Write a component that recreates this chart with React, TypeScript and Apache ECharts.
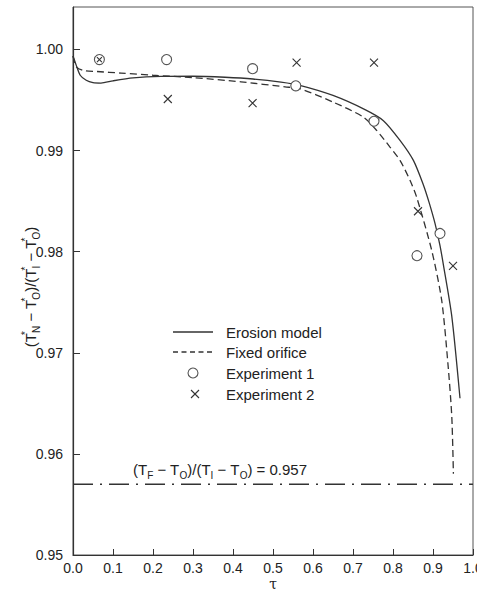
import React, { useEffect, useRef } from 'react';
import * as echarts from 'echarts';

// ---- data ----
const erosionTau = [0, 0.008, 0.018, 0.033, 0.05, 0.07, 0.1, 0.15, 0.22, 0.3, 0.38, 0.45, 0.52, 0.567, 0.65, 0.73, 0.776, 0.8175, 0.851, 0.876, 0.89, 0.905, 0.9175, 0.926, 0.947, 0.9675];
const erosionVal = [0.99935, 0.99845, 0.99745, 0.99695, 0.99672, 0.99668, 0.9969, 0.99718, 0.99733, 0.99735, 0.99725, 0.99708, 0.99677, 0.99645, 0.99545, 0.99405, 0.99296, 0.99101, 0.98903, 0.9866, 0.9849, 0.9828, 0.9806, 0.9787, 0.9736, 0.9655];

const orificeTau = [0, 0.009, 0.026, 0.06, 0.12, 0.2, 0.3, 0.42, 0.53, 0.5675, 0.65, 0.726, 0.759, 0.7925, 0.8175, 0.8425, 0.859, 0.8967, 0.9217, 0.938, 0.947, 0.951];
const orificeVal = [0.99935, 0.99825, 0.99792, 0.99782, 0.99766, 0.99745, 0.99722, 0.9968, 0.9963, 0.99612, 0.9948, 0.99331, 0.992, 0.99035, 0.98903, 0.98706, 0.98541, 0.98014, 0.9752, 0.96861, 0.96367, 0.95804];

const exp1Tau = [0.066, 0.234, 0.449, 0.557, 0.7525, 0.86, 0.9175];
const exp1Val = [0.999, 0.999, 0.9981, 0.9964, 0.9929, 0.9796, 0.9818];

const exp2Tau = [0.066, 0.237, 0.449, 0.559, 0.7525, 0.8625, 0.95];
const exp2Val = [0.999, 0.9951, 0.9947, 0.9987, 0.9987, 0.984, 0.9786];

const finalRatioTau = [0, 1];
const finalRatio = 0.957;

const legendLabels = ['Erosion model', 'Fixed orifice', 'Experiment 1', 'Experiment 2'];

const FONT = '"Liberation Sans", Arial, Helvetica, sans-serif';
const INK = '#222';
const LINE = '#333';
const CROSS = 'path://M0,0L10,10M10,0L0,10';

const zip = (xs: number[], ys: number[]) => xs.map((x, i) => [x, ys[i]]);

export default function App() {
  const ref = useRef<HTMLDivElement>(null);

  useEffect(() => {
    const chart = echarts.init(ref.current!, null, { renderer: 'svg' });

    const legendX = 173;
    const legendTextX = 226;
    const legendY = [332, 352, 373, 394];

    chart.setOption({
      animation: false,
      backgroundColor: '#fff',
      grid: {
        left: 73,
        right: 4,
        top: 7,
        bottom: 34,
        show: true,
        borderColor: '#555',
        borderWidth: 1,
        backgroundColor: 'transparent',
        containLabel: false,
        outerBoundsMode: 'none',
      },
      xAxis: {
        type: 'value',
        min: 0,
        max: 1,
        interval: 0.1,
        axisLine: { show: true, lineStyle: { color: LINE, width: 1.2 } },
        axisTick: { show: true, inside: true, length: 6, lineStyle: { color: LINE } },
        splitLine: { show: false },
        axisLabel: {
          color: INK,
          fontFamily: FONT,
          fontSize: 14,
          margin: 6,
          hideOverlap: false,
          formatter: (v: number) => v.toFixed(1),
        },
      },
      yAxis: {
        type: 'value',
        min: 0.95,
        max: 1.0042,
        interval: 0.01,
        axisLine: { show: true, lineStyle: { color: LINE, width: 1.2 } },
        axisTick: { show: true, inside: true, length: 7, lineStyle: { color: LINE } },
        splitLine: { show: false },
        axisLabel: {
          color: INK,
          fontFamily: FONT,
          fontSize: 14,
          margin: 10,
          showMaxLabel: false,
          formatter: (v: number) => v.toFixed(2),
        },
      },
      series: [
        {
          name: 'final',
          type: 'line',
          data: finalRatioTau.map((t) => [t, finalRatio]),
          symbol: 'none',
          lineStyle: { color: LINE, width: 1.3, type: [20, 7, 2, 7] },
          silent: true,
          z: 1,
        },
        {
          name: legendLabels[0],
          type: 'line',
          data: zip(erosionTau, erosionVal),
          symbol: 'none',
          smooth: 0.25,
          lineStyle: { color: LINE, width: 1.3, type: 'solid' },
          z: 2,
        },
        {
          name: legendLabels[1],
          type: 'line',
          data: zip(orificeTau, orificeVal),
          symbol: 'none',
          smooth: 0.25,
          lineStyle: { color: LINE, width: 1.3, type: [7, 4] },
          z: 2,
        },
        {
          name: legendLabels[2],
          type: 'scatter',
          data: zip(exp1Tau, exp1Val),
          symbol: 'circle',
          symbolSize: 10,
          itemStyle: { color: '#fff', borderColor: '#555', borderWidth: 1.1, opacity: 1 },
          z: 3,
        },
        {
          name: legendLabels[3],
          type: 'scatter',
          data: zip(exp2Tau, exp2Val),
          symbol: CROSS,
          symbolSize: (_v: any, p: any) => (p.dataIndex === 0 ? 5 : 8),
          itemStyle: { color: 'transparent', borderColor: '#333', borderWidth: 1.1, opacity: 1 },
          z: 4,
        },
      ],
      graphic: [
        // y-axis name
        {
          type: 'text',
          x: 30,
          y: 287,
          rotation: Math.PI / 2,
          style: {
            text:
              '{m|(T}{sup|*}{sub|N}{m| − T}{sup|*}{sub|O}{m|)/(T}{sup|*}{sub|I}{m| − T}{sup|*}{sub|O}{m|)}',
            align: 'center',
            verticalAlign: 'middle',
            fill: INK,
            rich: {
              m: { fontFamily: FONT, fontSize: 15, lineHeight: 22, verticalAlign: 'middle', fill: INK },
              sup: { fontFamily: FONT, fontSize: 11, lineHeight: 11, verticalAlign: 'top', width: 0, fill: INK },
              sub: { fontFamily: FONT, fontSize: 10, lineHeight: 10, verticalAlign: 'bottom', fill: INK },
            },
          },
        },
        // x-axis name
        {
          type: 'text',
          x: 273,
          y: 577,
          style: {
            text: 'τ',
            align: 'center',
            verticalAlign: 'top',
            fontFamily: '"DejaVu Serif", serif',
            fontSize: 14,
            fill: INK,
          },
        },
        // equation
        {
          type: 'text',
          x: 133,
          y: 469,
          style: {
            text: '{m|(T}{sub|F}{m| − T}{sub|O}{m|)/(T}{sub|I}{m| − T}{sub|O}{m|) = 0.957}',
            align: 'left',
            verticalAlign: 'middle',
            fill: INK,
            rich: {
              m: { fontFamily: FONT, fontSize: 15, lineHeight: 22, verticalAlign: 'middle', fill: INK },
              sub: { fontFamily: FONT, fontSize: 10, lineHeight: 10, verticalAlign: 'bottom', fill: INK },
            },
          },
        },
        // legend
        {
          type: 'line',
          shape: { x1: legendX, y1: legendY[0], x2: legendX + 40, y2: legendY[0] },
          style: { stroke: LINE, lineWidth: 1.3 },
        },
        {
          type: 'line',
          shape: { x1: legendX, y1: legendY[1], x2: legendX + 40, y2: legendY[1] },
          style: { stroke: LINE, lineWidth: 1.3, lineDash: [5, 3.5] },
        },
        {
          type: 'circle',
          shape: { cx: 193, cy: legendY[2], r: 5 },
          style: { fill: '#fff', stroke: '#555', lineWidth: 1.1 },
        },
        {
          type: 'line',
          shape: { x1: 191, y1: legendY[3] - 4, x2: 199, y2: legendY[3] + 4 },
          style: { stroke: LINE, lineWidth: 1.1 },
        },
        {
          type: 'line',
          shape: { x1: 199, y1: legendY[3] - 4, x2: 191, y2: legendY[3] + 4 },
          style: { stroke: LINE, lineWidth: 1.1 },
        },
        ...legendLabels.map((label, i) => ({
          type: 'text',
          x: legendTextX,
          y: legendY[i],
          style: {
            text: label,
            align: 'left',
            verticalAlign: 'middle',
            fontFamily: FONT,
            fontSize: 15,
            fill: INK,
          },
        })),
      ],
    });

    return () => chart.dispose();
  }, []);

  return (
    <div
      ref={ref}
      style={{ position: 'absolute', left: 0, top: 0, width: 477, height: 589, background: '#fff' }}
    />
  );
}
